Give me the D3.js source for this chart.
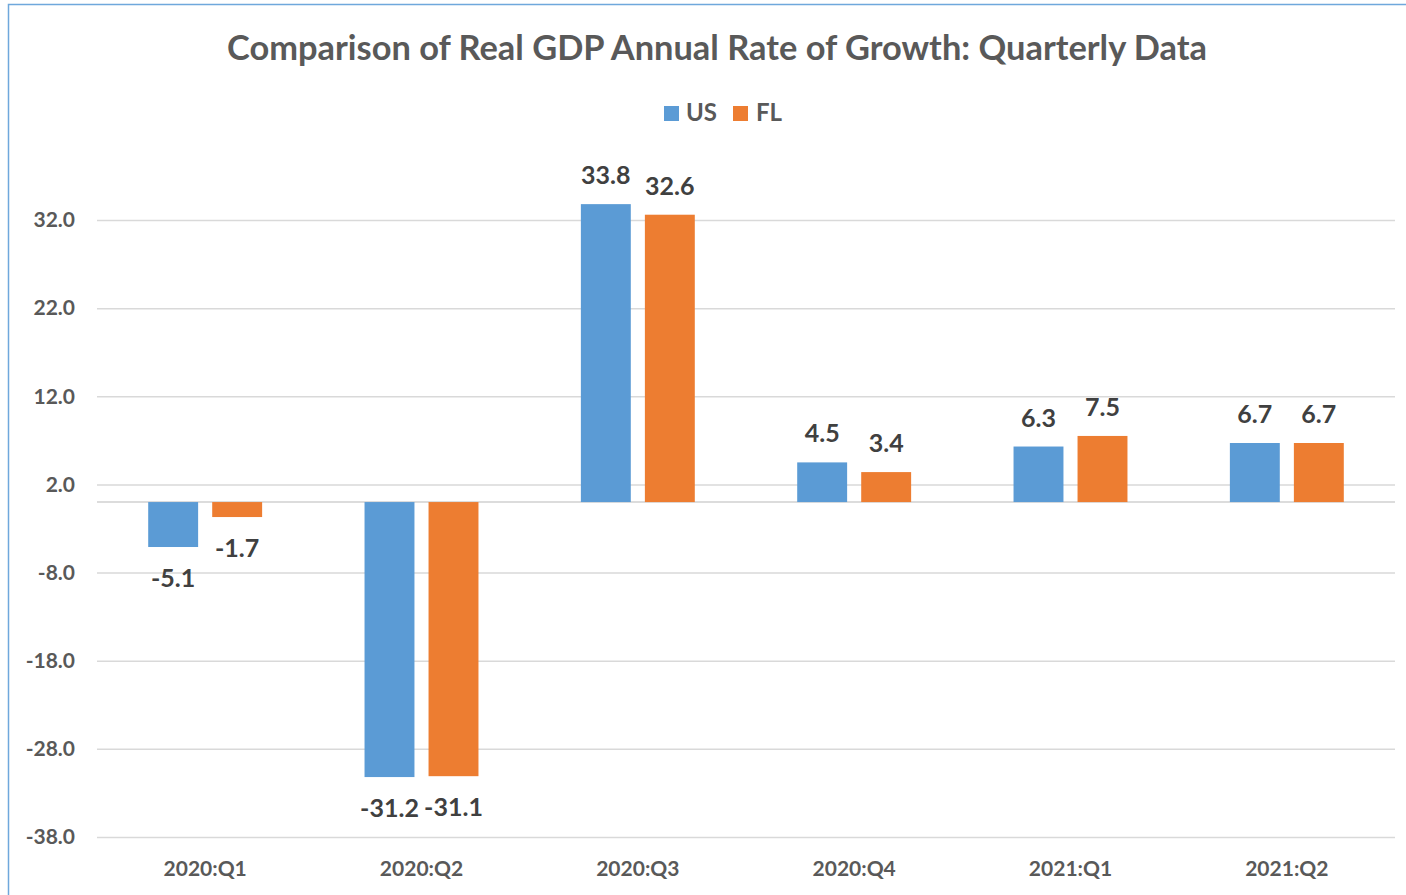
<!DOCTYPE html>
<html>
<head>
<meta charset="utf-8">
<script src="https://cdn.jsdelivr.net/npm/d3@7"></script>
<style>
  html, body { margin: 0; padding: 0; background: #fff; }
  svg { display: block; font-family: Lato, "Open Sans", sans-serif; }
</style>
</head>
<body>
<svg id="chart" width="1406" height="895"></svg>
<script>
// Quarterly real GDP growth (annual rate), US vs Florida
const quarters = ["2020:Q1", "2020:Q2", "2020:Q3", "2020:Q4", "2021:Q1", "2021:Q2"];
const seriesNames = ["US", "FL"];
const usValues = [-5.1, -31.2, 33.8, 4.5, 6.3, 6.7];
const flValues = [-1.7, -31.1, 32.6, 3.4, 7.5, 6.7];
const yTicks = [-38, -28, -18, -8, 2, 12, 22, 32];
const seriesColors = ["#5b9bd5", "#ed7d31"];

// Number format with a plain hyphen for negatives
const fmt = d3.formatLocale({ decimal: ".", thousands: ",", grouping: [3], currency: ["$", ""], minus: "-" }).format(".1f");

const svg = d3.select("#chart");

// Outer chart frame (blue border)
svg.append("rect")
  .attr("x", 8.5).attr("y", 4.5)
  .attr("width", 1500).attr("height", 1000)
  .attr("fill", "#fff")
  .attr("stroke", "#6fa8dc")
  .attr("stroke-width", 1.5);

const plot = { left: 97, right: 1395 };

const x = d3.scaleBand().domain(quarters).range([plot.left, plot.right]);
const xs = d3.scaleBand().domain(seriesNames)
  .range([0, x.bandwidth()]).paddingInner(0.22).paddingOuter(0.8);

const y = d3.scaleLinear().domain([-38, 32]).range([837, 220]);

// Gridlines and y tick labels
const yAxis = d3.axisLeft(y).tickValues(yTicks)
  .tickSize(-(plot.right - plot.left)).tickPadding(22)
  .tickFormat(fmt);
const gy = svg.append("g").attr("transform", `translate(${plot.left},0)`).call(yAxis);
gy.select(".domain").remove();
gy.selectAll(".tick line").attr("stroke", "#d9d9d9").attr("stroke-width", 1.5);
gy.selectAll(".tick text")
  .attr("fill", "#595959").attr("font-size", 21).attr("font-weight", 700)
  .attr("font-family", "Lato, sans-serif");

// Zero baseline
svg.append("line")
  .attr("x1", plot.left).attr("x2", plot.right)
  .attr("y1", y(0)).attr("y2", y(0))
  .attr("stroke", "#d0d0d0").attr("stroke-width", 1.5);

// Bars
const rows = quarters.map((q, i) => ({ q, vals: [usValues[i], flValues[i]] }));
const groups = svg.append("g").selectAll("g").data(rows).join("g")
  .attr("transform", d => `translate(${x(d.q)},0)`);

const cells = groups.selectAll("g").data(d => d.vals.map((v, j) => ({ name: seriesNames[j], v, j })))
  .join("g");

cells.append("rect")
  .attr("x", d => xs(d.name))
  .attr("width", xs.bandwidth())
  .attr("y", d => y(Math.max(0, d.v)))
  .attr("height", d => Math.abs(y(d.v) - y(0)))
  .attr("fill", d => seriesColors[d.j]);

// Value labels
cells.append("text")
  .attr("x", d => xs(d.name) + xs.bandwidth() / 2)
  .attr("y", d => d.v >= 0 ? y(d.v) - 20 : y(d.v) + 40)
  .attr("text-anchor", "middle")
  .attr("fill", "#404040")
  .attr("font-size", 25).attr("font-weight", 700)
  .text(d => fmt(d.v));

// Category labels
svg.append("g").selectAll("text").data(quarters).join("text")
  .attr("x", d => x(d) + x.bandwidth() / 2)
  .attr("y", 876)
  .attr("text-anchor", "middle")
  .attr("fill", "#595959")
  .attr("font-size", 21).attr("font-weight", 700)
  .text(d => d);

// Title
svg.append("text")
  .attr("x", 717).attr("y", 60)
  .attr("text-anchor", "middle")
  .attr("fill", "#595959")
  .attr("font-size", 34.4).attr("font-weight", 700)
  .text("Comparison of Real GDP Annual Rate of Growth: Quarterly Data");

// Legend
const legendItems = [
  { name: "US", sx: 664, tx: 686 },
  { name: "FL", sx: 733, tx: 756 }
];
const lg = svg.append("g");
legendItems.forEach((it, i) => {
  lg.append("rect").attr("x", it.sx).attr("y", 106).attr("width", 15).attr("height", 15)
    .attr("fill", seriesColors[i]);
  lg.append("text").attr("x", it.tx).attr("y", 121)
    .attr("fill", "#595959").attr("font-size", 24).attr("font-weight", 700)
    .text(it.name);
});
</script>
</body>
</html>
